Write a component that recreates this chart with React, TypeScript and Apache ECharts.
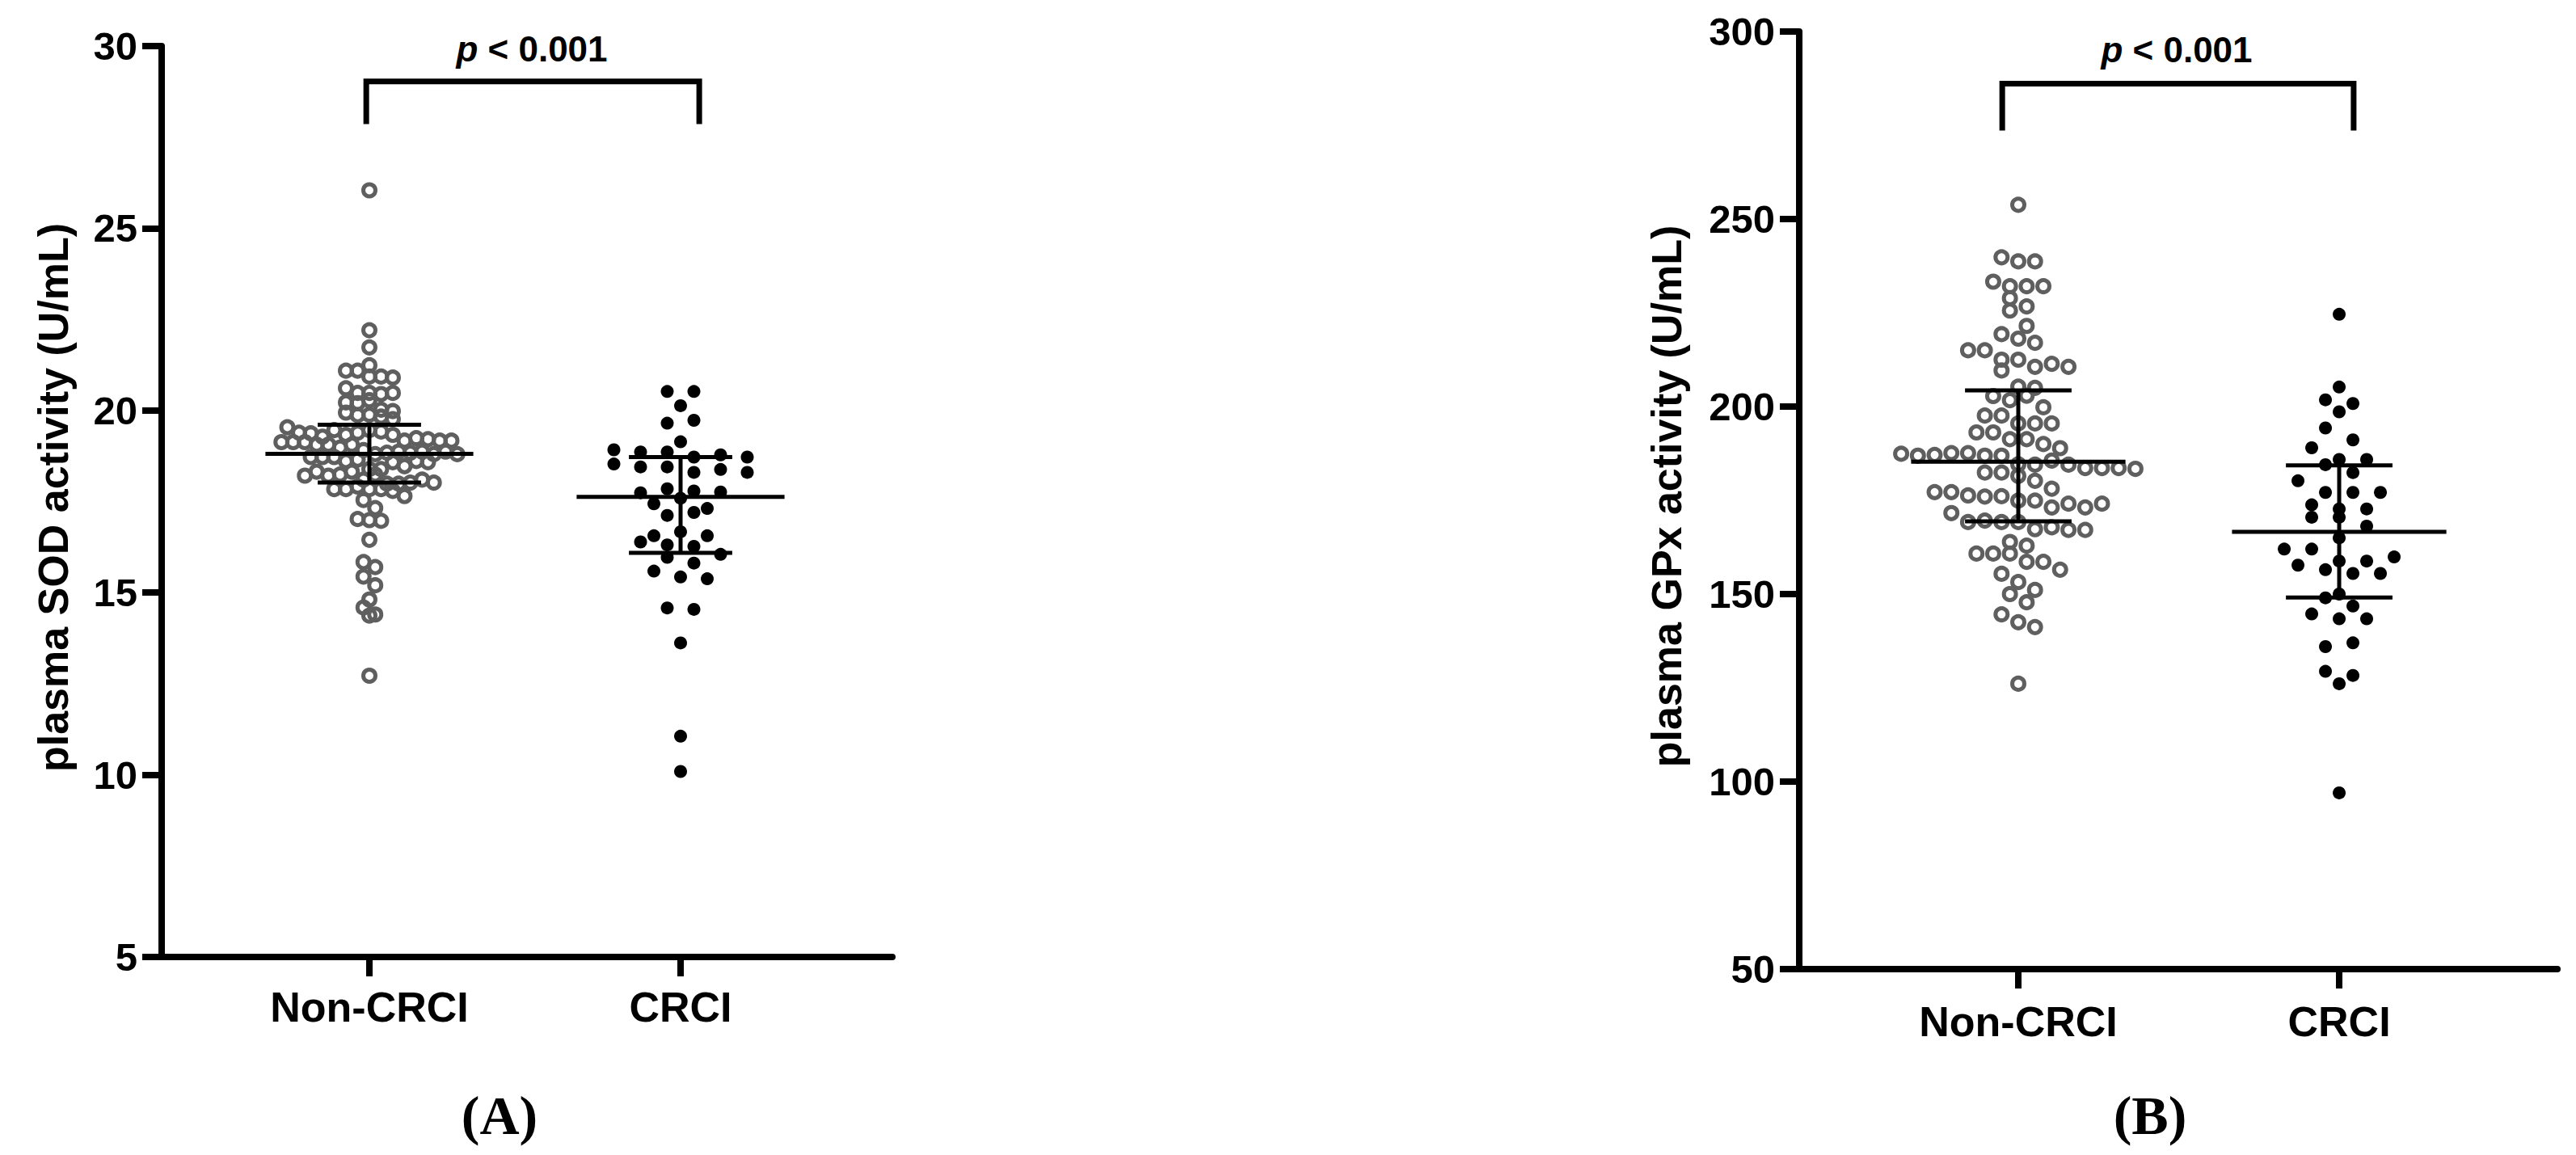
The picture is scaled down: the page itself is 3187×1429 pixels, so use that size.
import React, { useEffect, useRef } from 'react';
import * as echarts from 'echarts';

// ---------- data ----------
const categories = ['Non-CRCI', 'CRCI'];
const yTitles = ['plasma SOD activity (U/mL)', 'plasma GPx activity (U/mL)'];
const panelLabels = ['(A)', '(B)'];
const pText = 'p < 0.001';

const sodNonCRCI = [
  26.04, 22.2, 21.73, 21.24, 21.09, 21.09, 20.93, 20.93, 20.9, 20.61, 20.48, 20.48, 20.45, 20.48, 20.22, 20.2,
  20.28, 20.02, 19.98, 19.94, 19.87, 19.88, 19.83, 19.76, 19.54,
  19.39, 19.37, 19.28, 19.46, 19.33, 19.39, 19.46, 19.42, 19.33,
  19.17, 19.13, 19.24, 19.13, 19.13, 19.06, 19.21, 19.17, 19.06, 19.17, 18.98, 19.06,
  18.91, 18.8, 18.72, 18.84, 18.72, 18.87, 18.84, 18.87, 18.8, 18.72, 18.87, 18.8, 18.61, 18.65,
  18.39, 18.21, 18.39, 18.58, 18.32, 18.21, 18.47, 18.24, 18.61, 18.58, 18.32, 18.1, 18.24,
  17.84, 17.84, 17.99, 17.91, 17.99, 18.02, 18.1, 18.02, 17.84, 17.84,
  17.79, 17.65, 17.54, 17.32, 17.02, 16.99, 16.97, 16.45, 15.84, 15.7, 15.44, 15.2, 14.81, 14.59, 14.4, 14.37, 12.72,
];
const sodCRCI = [
  20.52, 20.52, 20.13, 19.65, 19.73, 19.14, 18.92, 18.86, 18.86, 18.72, 18.78, 18.72, 18.53, 18.45, 18.45, 18.3,
  18.38, 18.3, 17.74, 17.85, 17.79, 17.76, 17.44, 17.59, 17.31, 17.12, 17.2, 16.56, 16.67, 16.56, 16.39, 16.31,
  16.27, 16.05, 15.97, 15.81, 15.59, 15.43, 15.38, 14.58, 14.54, 13.62, 11.06, 10.09,
];
const gpxNonCRCI = [
  253.8, 239.8, 238.7, 238.7, 233.3, 232.1, 232.1, 232.1, 228.9, 226.7, 225.6, 221.5, 219.3, 218.1, 217.0, 215.0,
  215.0, 212.5, 212.5, 210.6, 211.4, 210.6, 209.6, 205.3, 205.0, 202.8, 201.7, 202.9, 199.8, 197.6, 197.6, 195.5,
  195.5, 195.5, 193.1, 193.1, 191.3, 191.3, 190.0, 188.9,
  187.4, 186.9, 187.1, 187.6, 187.6, 186.9, 186.9,
  184.6, 184.5, 185.6, 184.5,
  182.4, 183.6, 183.6, 182.4, 183.6, 183.4,
  181.5, 180.2,
  177.2, 177.2, 178.1, 176.3,
  176.0, 176.1, 174.9, 174.9,
  173.1, 174.1, 173.1, 174.1,
  171.6,
  169.2, 169.6, 169.2, 169.2,
  167.3, 167.8, 167.1, 167.1,
  163.9, 162.9, 160.8, 160.8, 160.8, 158.6, 158.6, 156.5, 155.4, 153.2, 151.1, 150.0, 147.8, 144.6, 142.5, 141.2, 126.1,
];
const gpxCRCI = [
  224.6, 205.2, 201.8, 198.6, 200.8, 194.3, 191.1, 189.0, 185.9, 185.9, 184.5, 182.4, 180.2, 177.1, 177.1, 177.1,
  173.8, 172.7, 172.7, 170.5, 170.5, 168.1, 165.0, 162.0, 162.0, 158.8, 158.8, 159.9, 157.7, 156.5, 155.5, 155.5,
  149.0, 150.0, 146.8, 144.7, 143.4, 143.4, 136.0, 137.0, 129.4, 128.3, 126.1, 97.0,
];

// median and interquartile range per group
const sodMedian = [18.81, 17.63];
const sodQ1 = [18.02, 16.09];
const sodQ3 = [19.61, 18.72];
const gpxMedian = [185.3, 166.6];
const gpxQ1 = [169.4, 149.1];
const gpxQ3 = [204.3, 184.3];

// significance brackets: [x-left, x-right, y-leg-bottom, y-top]
const sodBracket = [0.99, 2.06, 27.86, 29.03];
const gpxBracket = [0.95, 2.045, 273.6, 286.1];

// ---------- layout ----------
const FONT = '"Liberation Sans", Arial, Helvetica, sans-serif';
const SERIF = '"Liberation Serif", "Times New Roman", serif';
const W = 3187;
const H = 1429;

const panels = [
  {
    grid: { left: 200, top: 57, width: 904, height: 1127 },
    xMin: 0.3325, xMax: 2.6805, yMin: 5, yMax: 30, yInterval: 5,
    labelMargin: 36,
    groups: [sodNonCRCI, sodCRCI],
    median: sodMedian, q1: sodQ1, q3: sodQ3,
    bracket: sodBracket,
    swarm: [{ bin: 18, spacing: 14.5 }, { bin: 19, spacing: 33 }],
    titleX: 66, pX: 658, pY: 60, labelX: 618,
  },
  {
    grid: { left: 2226, top: 39, width: 938, height: 1160 },
    xMin: 0.3174, xMax: 2.68, yMin: 50, yMax: 300, yInterval: 50,
    labelMargin: 39,
    groups: [gpxNonCRCI, gpxCRCI],
    median: gpxMedian, q1: gpxQ1, q3: gpxQ3,
    bracket: gpxBracket,
    swarm: [{ bin: 25, spacing: 20.7 }, { bin: 21, spacing: 34 }],
    titleX: 2062, pX: 2693, pY: 61, labelX: 2660,
  },
];

function swarm(values: number[], center: number, binPx: number, spacingPx: number, yPx: number, xPx: number) {
  const bins = new Map<number, number[]>();
  values.forEach((v, i) => {
    const b = Math.floor((v * yPx) / binPx);
    if (!bins.has(b)) bins.set(b, []);
    bins.get(b)!.push(i);
  });
  const out: number[][] = new Array(values.length);
  bins.forEach((idx) => {
    const n = idx.length;
    idx.forEach((i, k) => {
      out[i] = [center + ((k - (n - 1) / 2) * spacingPx) / xPx, values[i]];
    });
  });
  return out;
}

function buildOption() {
  const grid: any[] = [];
  const xAxis: any[] = [];
  const yAxis: any[] = [];
  const series: any[] = [];
  const graphic: any[] = [];

  panels.forEach((p, pi) => {
    grid.push({ ...p.grid, containLabel: false, outerBoundsMode: 'none' });
    const xPx = p.grid.width / (p.xMax - p.xMin);
    const yPx = p.grid.height / (p.yMax - p.yMin);
    xAxis.push({
      gridIndex: pi,
      type: 'value',
      min: p.xMin,
      max: p.xMax,
      axisLine: { show: true, onZero: false, lineStyle: { color: '#000', width: 8 } },
      axisTick: { show: true, customValues: [1, 2], length: 24, lineStyle: { color: '#000', width: 8 } },
      axisLabel: {
        show: true,
        customValues: [1, 2],
        formatter: (v: number) => categories[Math.round(v) - 1] ?? '',
        fontSize: 52,
        fontWeight: 'bold',
        fontFamily: FONT,
        color: '#000',
        margin: p.labelMargin,
      },
      splitLine: { show: false },
    });
    yAxis.push({
      gridIndex: pi,
      type: 'value',
      min: p.yMin,
      max: p.yMax,
      interval: p.yInterval,
      axisLine: { show: true, onZero: false, lineStyle: { color: '#000', width: 8 } },
      axisTick: { show: true, length: 24, lineStyle: { color: '#000', width: 8 } },
      axisLabel: { fontSize: 49, fontWeight: 'bold', fontFamily: FONT, color: '#000', margin: 30 },
      splitLine: { show: false },
    });

    // points
    p.groups.forEach((vals, gi) => {
      const pts = swarm(vals, gi + 1, p.swarm[gi].bin, p.swarm[gi].spacing, yPx, xPx);
      series.push({
        type: 'scatter',
        xAxisIndex: pi,
        yAxisIndex: pi,
        data: pts,
        symbol: 'circle',
        symbolSize: gi === 0 ? 15 : 16,
        itemStyle:
          gi === 0
            ? { color: 'rgba(255,255,255,0)', borderColor: '#5f5f5f', borderWidth: 5, opacity: 1 }
            : { color: '#000', borderWidth: 0, opacity: 1 },
        z: 2,
        silent: true,
      });
    });

    // median + IQR bars
    series.push({
      type: 'custom',
      xAxisIndex: pi,
      yAxisIndex: pi,
      z: 5,
      silent: true,
      clip: false,
      encode: { x: 0, y: [1, 2, 3] },
      data: categories.map((_, i) => [i + 1, p.median[i], p.q1[i], p.q3[i]]),
      renderItem: (params: any, api: any) => {
        const c = api.value(0);
        const m = api.value(1);
        const lo = api.value(2);
        const hi = api.value(3);
        const style = { stroke: '#000', lineWidth: 5 };
        const seg = (a: number[], b: number[]) => ({
          type: 'line',
          shape: { x1: a[0], y1: a[1], x2: b[0], y2: b[1] },
          style,
        });
        return {
          type: 'group',
          children: [
            seg(api.coord([c - 0.334, m]), api.coord([c + 0.334, m])),
            seg(api.coord([c - 0.166, hi]), api.coord([c + 0.166, hi])),
            seg(api.coord([c - 0.166, lo]), api.coord([c + 0.166, lo])),
            seg(api.coord([c, lo]), api.coord([c, hi])),
          ],
        };
      },
    });

    // significance bracket
    const b = p.bracket;
    series.push({
      type: 'line',
      xAxisIndex: pi,
      yAxisIndex: pi,
      data: [
        [b[0], b[2]],
        [b[0], b[3]],
        [b[1], b[3]],
        [b[1], b[2]],
      ],
      symbol: 'none',
      lineStyle: { color: '#000', width: 7, join: 'miter', cap: 'butt', opacity: 1 },
      z: 5,
      silent: true,
      clip: false,
    });

    // texts
    graphic.push({
      type: 'text',
      x: p.titleX,
      y: p.grid.top + p.grid.height / 2 - 5,
      rotation: Math.PI / 2,
      style: {
        text: yTitles[pi],
        fontSize: 52,
        fontWeight: 'bold',
        fontFamily: FONT,
        fill: '#000',
        align: 'center',
        verticalAlign: 'middle',
        textAlign: 'center',
        textVerticalAlign: 'middle',
      },
    });
    graphic.push({
      type: 'text',
      x: p.pX,
      y: p.pY,
      style: {
        text: '{i|p}{n| < 0.001}',
        rich: {
          i: { fontStyle: 'italic', fontWeight: 'bold', fontSize: 44, fontFamily: FONT, fill: '#000' },
          n: { fontWeight: 'bold', fontSize: 44, fontFamily: FONT, fill: '#000' },
        },
        fontSize: 44,
        fontWeight: 'bold',
        fontFamily: FONT,
        fill: '#000',
        align: 'center',
        verticalAlign: 'middle',
        textAlign: 'center',
        textVerticalAlign: 'middle',
      },
    });
    graphic.push({
      type: 'text',
      x: p.labelX,
      y: 1380,
      style: {
        text: panelLabels[pi],
        fontSize: 68,
        fontWeight: 'bold',
        fontFamily: SERIF,
        fill: '#000',
        align: 'center',
        verticalAlign: 'middle',
        textAlign: 'center',
        textVerticalAlign: 'middle',
      },
    });
  });

  return {
    animation: false,
    backgroundColor: '#fff',
    grid,
    xAxis,
    yAxis,
    series,
    graphic,
  };
}

export default function App() {
  const ref = useRef<HTMLDivElement>(null);
  useEffect(() => {
    if (!ref.current) return;
    const chart = echarts.init(ref.current, undefined, { renderer: 'svg', width: W, height: H });
    chart.setOption(buildOption() as any);
    return () => chart.dispose();
  }, []);
  return (
    <div
      ref={ref}
      style={{ position: 'absolute', left: 0, top: 0, width: W, height: H, background: '#fff' }}
      aria-label={pText}
    />
  );
}
